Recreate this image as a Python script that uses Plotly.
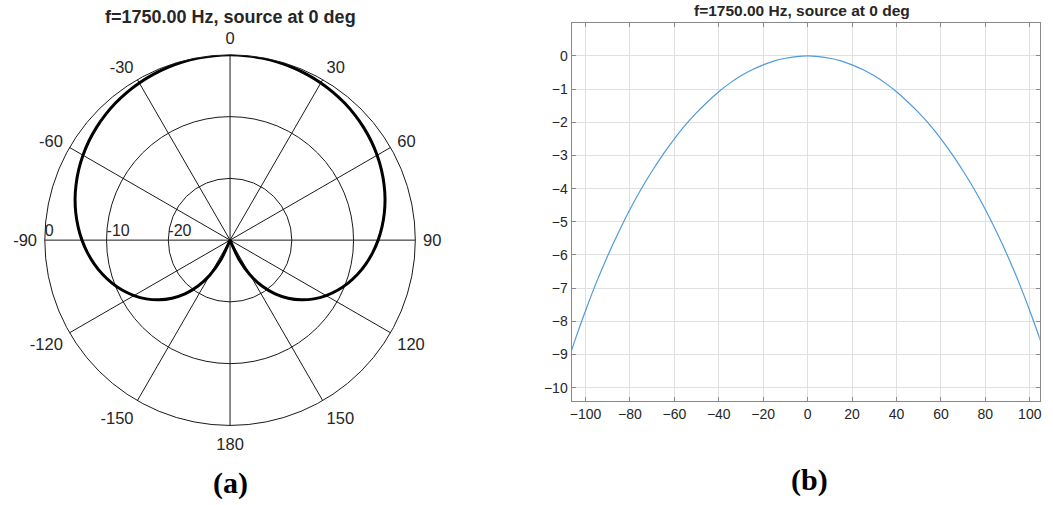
import plotly.graph_objects as go

# ---- data ----
title_text = "f=1750.00 Hz, source at 0 deg"

# response in dB vs angle (deg), one side; pattern is symmetric
angles_deg = [0, 5, 10, 15, 20, 25, 30, 35, 40, 45, 50, 55, 60, 65, 70, 75, 80, 85, 90,
              95, 100, 105, 110, 115, 120, 125, 130, 135, 140, 145, 150, 155, 160, 165, 170, 175, 180]
level_db = [0.0, -0.02, -0.07, -0.15, -0.27, -0.42, -0.60, -0.82, -1.08, -1.38, -1.71, -2.08, -2.50,
            -2.96, -3.47, -4.02, -4.63, -5.30, -6.02, -6.81, -7.68, -8.62, -9.66, -10.79, -12.04,
            -13.42, -14.96, -16.69, -18.64, -20.87, -23.48, -26.59, -30.0, -30.0, -30.0, -30.0, -30.0]

ang_tickvals = [0, 30, 60, 90, 120, 150, 180, 210, 240, 270, 300, 330]
ang_ticktext = ["0", "30", "60", "90", "120", "150", "180", "-150", "-120", "-90", "-60", "-30"]
rad_tickvals = [-20, -10, 0]
rad_ticktext = ["-20", "-10", "0"]
rad_label_theta = 270

x_tickvals = [-100, -80, -60, -40, -20, 0, 20, 40, 60, 80, 100]
y_tickvals = [0, -1, -2, -3, -4, -5, -6, -7, -8, -9, -10]

# full-circle theta/r for polar (right half then mirrored left half)
theta_full = angles_deg + [360 - a for a in reversed(angles_deg[:-1])]
r_full = level_db + list(reversed(level_db[:-1]))

# cartesian: -110..110
x_line = [-a for a in reversed(angles_deg[1:23])] + angles_deg[:23]
y_line = list(reversed(level_db[1:23])) + level_db[:23]

TXT = "#262626"
fig = go.Figure()

fig.add_trace(go.Scatterpolar(
    theta=theta_full, r=r_full, mode="lines",
    line=dict(color="black", width=3, shape="spline", smoothing=0.8),
    subplot="polar", showlegend=False, hoverinfo="skip"))

# radial tick labels, drawn along the -90 spoke like the reference
fig.add_trace(go.Scatterpolar(
    theta=[rad_label_theta] * len(rad_tickvals), r=rad_tickvals, mode="text",
    text=rad_ticktext, textposition="top right",
    textfont=dict(size=16, color=TXT),
    subplot="polar", showlegend=False, hoverinfo="skip"))

fig.add_trace(go.Scatter(
    x=x_line, y=y_line, mode="lines",
    line=dict(color="#4f9bdb", width=1.2, shape="spline", smoothing=0.8),
    xaxis="x", yaxis="y", showlegend=False, hoverinfo="skip"))

font_fam = "Liberation Sans, Arial, sans-serif"

fig.update_layout(
    width=1053, height=505,
    margin=dict(l=0, r=0, t=0, b=0),
    paper_bgcolor="white", plot_bgcolor="white",
    font=dict(family=font_fam, size=14, color=TXT),
    polar=dict(
        domain=dict(x=[0.0408, 0.394], y=[0.156, 0.893]),
        bgcolor="white",
        angularaxis=dict(
            rotation=90, direction="clockwise",
            tickmode="array", tickvals=ang_tickvals, ticktext=ang_ticktext,
            showgrid=True, gridcolor="#1a1a1a", gridwidth=1,
            showline=True, linecolor="#1a1a1a", linewidth=1,
            ticks="outside", ticklen=4, tickcolor="rgba(0,0,0,0)",
            tickfont=dict(size=16.5, color=TXT)),
        radialaxis=dict(
            range=[-30, 0], angle=180,
            tickmode="array", tickvals=rad_tickvals,
            showticklabels=False,
            showgrid=True, gridcolor="#1a1a1a", gridwidth=1,
            showline=False, ticks=""),
    ),
    xaxis=dict(
        domain=[0.5429, 0.9893], range=[-106.3, 104.5],
        tickmode="array", tickvals=x_tickvals,
        showgrid=True, gridcolor="#e0e0e0", gridwidth=1, zeroline=False,
        showline=True, linecolor="#8a8a8a", linewidth=1, mirror="ticks",
        ticks="inside", ticklen=4, tickcolor="#8a8a8a",
        tickfont=dict(size=14, color=TXT), anchor="y"),
    yaxis=dict(
        domain=[0.206, 0.955], range=[-10.4, 1.0],
        tickmode="array", tickvals=y_tickvals,
        showgrid=True, gridcolor="#e0e0e0", gridwidth=1, zeroline=False,
        showline=True, linecolor="#8a8a8a", linewidth=1, mirror="ticks",
        ticks="inside", ticklen=4, tickcolor="#8a8a8a",
        tickfont=dict(size=14, color=TXT), anchor="x"),
    annotations=[
        dict(text="<b>" + title_text + "</b>", x=229 / 1053, y=1 - 17 / 505, xref="paper", yref="paper",
             showarrow=False, xanchor="center", yanchor="middle", font=dict(size=18, color=TXT)),
        dict(text="<b>" + title_text + "</b>", x=803 / 1053, y=1 - 10 / 505, xref="paper", yref="paper",
             showarrow=False, xanchor="center", yanchor="middle", font=dict(size=15.5, color=TXT)),
        dict(text="<b>(a)</b>", x=229 / 1053, y=1 - 483 / 505, xref="paper", yref="paper",
             showarrow=False, xanchor="center", yanchor="middle",
             font=dict(size=30, family="Liberation Serif, Times New Roman, serif", color="black")),
        dict(text="<b>(b)</b>", x=811 / 1053, y=1 - 480 / 505, xref="paper", yref="paper",
             showarrow=False, xanchor="center", yanchor="middle",
             font=dict(size=30, family="Liberation Serif, Times New Roman, serif", color="black")),
    ],
)

fig.write_html("out.html")
